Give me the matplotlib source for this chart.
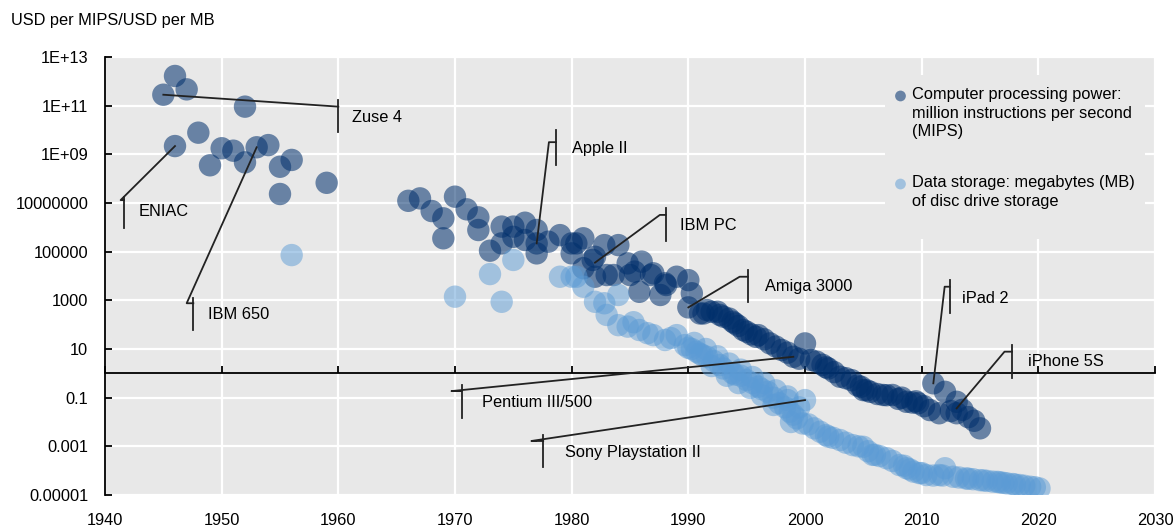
import numpy as np
import matplotlib.pyplot as plt
from matplotlib.ticker import NullLocator
from matplotlib.patches import Rectangle

plt.rcParams['font.family'] = ['Liberation Sans', 'DejaVu Sans']
FS = 11.8

# Computer processing power, USD per MIPS (year, log10 value)
mips_year = [1945, 1946, 1946, 1947, 1948, 1949, 1950, 1951, 1952, 1952, 1953, 1954,
             1955, 1955, 1956, 1959,
             1966, 1967, 1968, 1969, 1969, 1970, 1971, 1972, 1972, 1973, 1974, 1974,
             1975, 1975, 1976, 1976, 1977, 1977, 1977, 1978, 1979, 1980, 1980, 1980.4,
             1981, 1981, 1981.8, 1982, 1982, 1982.8, 1983, 1983.6, 1984, 1984.8, 1985,
             1985.4, 1985.8, 1986, 1986.8, 1987, 1987.6, 1988, 1988.1, 1989, 1990, 1990.3,
             1990, 1991, 1991.3, 1991.6, 1992, 1992.5, 1992.7, 1993, 1993.5, 1993.8, 1994,
             1994.3, 1994.7, 1995, 1995.4, 1995.8, 1996, 1996.5, 1997, 1997.5, 1998, 1998.5,
             1999, 1999.5, 2000, 2000.5, 2001, 2001.5, 2001.8, 2002, 2002.5, 2003, 2003.5,
             2004, 2004.5, 2004.8, 2005, 2005.3, 2005.6, 2006.2, 2006.7, 2007, 2007.5, 2008,
             2008.3, 2008.7, 2009.2, 2009.5, 2009.7, 2010.2, 2010.7, 2011, 2011.5, 2012,
             2012.5, 2013, 2013, 2013.5, 2014, 2014.5, 2015]
mips_log10 = [11.45, 12.22, 9.34, 11.67, 9.89, 8.55, 9.25, 9.15, 10.96, 8.67, 9.29, 9.38,
              8.49, 7.37, 8.77, 7.83,
              7.09, 7.19, 6.67, 6.37, 5.55, 7.26, 6.74, 6.41, 5.89, 5.04, 6.03, 5.34,
              6.03, 5.61, 6.19, 5.48, 5.89, 5.34, 4.93, 5.41, 5.68, 5.34, 4.93, 5.34,
              5.55, 4.32, 4.66, 4.79, 3.97, 5.27, 4.04, 4.04, 5.27, 4.52, 4.04,
              4.18, 3.35, 4.59, 4.04, 4.11, 3.22, 3.70, 3.63, 3.97, 3.83, 3.29,
              2.71, 2.46, 2.46, 2.60, 2.53, 2.53, 2.40, 2.33, 2.25, 2.12, 2.05,
              1.95, 1.78, 1.71, 1.60, 1.50, 1.57, 1.40, 1.23, 1.10, 0.96, 0.85,
              0.68, 0.60, 1.23, 0.55, 0.48, 0.35, 0.25, 0.20, 0.05, -0.14, -0.20,
              -0.28, -0.50, -0.55, -0.69, -0.70, -0.76, -0.85, -0.89, -0.90, -0.89, -1.05,
              -1.00, -1.17, -1.20, -1.15, -1.23, -1.35, -1.51, -0.41, -1.64, -0.76,
              -1.55, -1.17, -1.64, -1.50, -1.80, -1.95, -2.26]

# Data storage, USD per MB (year, log10 value)
disk_year = [1956, 1970, 1973, 1974, 1975, 1979, 1980, 1980.4, 1981, 1982, 1982.8, 1983,
             1984, 1984, 1984.8, 1985.3, 1985.8, 1986.5, 1987, 1988, 1988.5, 1989, 1989.7,
             1990, 1990.3, 1990.5, 1990.7, 1991, 1991.2, 1991.5, 1991.6, 1992, 1992.2,
             1992.5, 1992.7, 1993, 1993.3, 1993.5, 1993.8, 1994, 1994.3, 1994.5, 1994.5,
             1995, 1995.3, 1995.5, 1995.5, 1996, 1996.3, 1996.3, 1996.5, 1996.8, 1997.3,
             1997.3, 1997.5, 1997.8, 1998.3, 1998.5, 1998.5, 1998.7, 1998.8, 1999, 1999.3,
             1999.5, 1999.8, 2000, 2000.3, 2000.8, 2001.3, 2001.8, 2002, 2002.4, 2003,
             2003.5, 2004.1, 2004.6, 2005, 2005.4, 2005.8, 2006, 2006.4, 2007, 2007.5,
             2008.1, 2008.5, 2008.7, 2009, 2009.3, 2009.8, 2010, 2010.4, 2011, 2011.5,
             2011.8, 2012, 2012.7, 2013.2, 2013.8, 2014, 2014.4, 2015, 2015.3, 2015.6,
             2016.1, 2016.5, 2016.7, 2017, 2017.3, 2017.8, 2018, 2018.4, 2018.8, 2019.3,
             2019.7, 2020.1]
disk_log10 = [4.86, 3.15, 4.08, 2.94, 4.66, 3.97, 3.97, 3.97, 3.56, 2.94, 2.88, 2.40,
              3.22, 1.98, 1.92, 2.10, 1.78, 1.65, 1.57, 1.37, 1.45, 1.57, 1.16,
              1.05, 1.00, 1.25, 0.89, 0.80, 0.75, 1.00, 0.68, 0.30, 0.50,
              0.70, 0.34, 0.20, -0.10, 0.40, 0.00, -0.05, -0.40, -0.10, 0.15,
              -0.28, -0.60, -0.40, -0.15, -0.55, -0.65, -0.90, -0.40, -0.76, -1.00,
              -1.30, -0.70, -1.23, -1.40, -1.10, -0.95, -1.58, -2.00, -1.70, -1.85,
              -1.40, -2.06, -1.10, -2.10, -2.26, -2.40, -2.54, -2.60, -2.65, -2.74,
              -2.85, -2.95, -3.00, -3.02, -3.20, -3.35, -3.35, -3.40, -3.49, -3.60,
              -3.77, -3.80, -3.90, -3.95, -4.04, -4.10, -4.10, -4.18, -4.20, -4.18,
              -4.20, -3.90, -4.25, -4.28, -4.32, -4.33, -4.35, -4.39, -4.40, -4.42,
              -4.45, -4.46, -4.48, -4.50, -4.52, -4.55, -4.57, -4.59, -4.62, -4.66,
              -4.68, -4.73]

# annotations: label, point, stub end, bar x, bar y range, text position (year, log10)
notes = [
    ('Zuse 4', (1945, 11.45), (1960.0, 10.96), 1960.0, (11.23, 9.92), (1961.2, 10.53)),
    ('ENIAC', (1946, 9.34), (1941.34, 7.12), 1941.63, (7.26, 5.98), (1942.86, 6.67)),
    ('IBM 650', (1953, 9.29), (1947.0, 2.88), 1947.57, (3.09, 1.78), (1948.83, 2.40)),
    ('Apple II', (1977, 5.34), (1978.05, 9.5), 1978.65, (10.0, 8.56), (1980.0, 9.26)),
    ('IBM PC', (1982, 4.55), (1987.56, 6.51), 1988.05, (6.78, 5.45), (1989.27, 6.09)),
    ('Amiga 3000', (1990, 2.71), (1994.4, 3.97), 1995.1, (4.25, 2.92), (1996.56, 3.55)),
    ('iPad 2', (2011, -0.41), (2011.97, 3.56), 2012.4, (3.83, 2.48), (2013.44, 3.09)),
    ('iPhone 5S', (2013, -1.44), (2017.1, 0.89), 2017.75, (1.16, -0.21), (2019.1, 0.48)),
    ('Pentium III/500', (1999, 0.68), (1969.7, -0.73), 1970.56, (-0.48, -1.85), (1972.28, -1.2)),
    ('Sony Playstation II', (2000, -1.1), (1976.55, -2.78), 1977.56, (-2.52, -3.86), (1979.4, -3.26)),
]

mips_lbl = 'Computer processing power:\nmillion instructions per second\n(MIPS)'
disk_lbl = 'Data storage: megabytes (MB)\nof disc drive storage'

dark = '#002f6c'
light = '#5b9bd5'
bg = '#e8e8e8'

fig = plt.figure(figsize=(11.75, 5.27), dpi=100)
ax = fig.add_axes([105/1175, 1-495/527, 1050/1175, 438/527])
ax.set_facecolor(bg)
ax.set_yscale('log')
ax.set_xlim(1940, 2030)
ax.set_ylim(1e-5, 1e13)

yt = [1e13, 1e11, 1e9, 1e7, 1e5, 1e3, 10, 0.1, 0.001, 1e-5]
ytl = ['1E+13', '1E+11', '1E+09', '10000000', '100000', '1000', '10', '0.1', '0.001', '0.00001']
ax.set_yticks(yt, ytl)
ax.yaxis.set_minor_locator(NullLocator())
ax.set_xticks(range(1940, 2031, 10))
ax.grid(color='white', lw=1.6)
ax.set_axisbelow(True)

for s in ['top', 'right']:
    ax.spines[s].set_visible(False)
ax.spines['left'].set_linewidth(1.3)
ax.spines['bottom'].set_position(('data', 1))
ax.spines['bottom'].set_linewidth(1.3)
ax.tick_params(axis='x', direction='in', length=5, width=1.3, labelbottom=False)
ax.tick_params(axis='y', direction='in', length=5, width=1.3, pad=12, labelsize=FS)

sec = ax.secondary_xaxis('bottom')
sec.set_xticks(range(1940, 2031, 10))
sec.spines['bottom'].set_visible(False)
sec.tick_params(length=0, pad=13, labelsize=FS)

ax.scatter(mips_year, np.power(10.0, mips_log10), s=260, color=dark, alpha=0.55,
           edgecolors='none', zorder=3)
ax.scatter(disk_year, np.power(10.0, disk_log10), s=260, color=light, alpha=0.5,
           edgecolors='none', zorder=3)

for lbl, p, stub, bx, (b1, b2), tp in notes:
    ax.plot([p[0], stub[0], bx], [10**p[1], 10**stub[1], 10**stub[1]],
            color='#222222', lw=1.3, zorder=4)
    ax.plot([bx, bx], [10**b1, 10**b2], color='#222222', lw=1.3, zorder=4)
    ax.text(tp[0], 10**tp[1], lbl, ha='left', va='center', fontsize=FS, zorder=5)

# legend box drawn over the grid
ax.add_patch(Rectangle((0.743, 0.585), 0.247, 0.375, transform=ax.transAxes,
                       facecolor=bg, edgecolor='none', zorder=1))
ax.scatter([0.7576], [0.911], s=60, color=dark, alpha=0.55, edgecolors='none',
           transform=ax.transAxes, zorder=5, clip_on=False)
ax.scatter([0.7576], [0.710], s=60, color=light, alpha=0.5, edgecolors='none',
           transform=ax.transAxes, zorder=5, clip_on=False)
ax.text(0.7686, 0.931, mips_lbl, transform=ax.transAxes, ha='left', va='top',
        fontsize=FS, linespacing=1.3)
ax.text(0.7686, 0.730, disk_lbl, transform=ax.transAxes, ha='left', va='top',
        fontsize=FS, linespacing=1.3)

fig.text(11/1175, 1-20/527, 'USD per MIPS/USD per MB', ha='left', va='center', fontsize=FS)

fig.savefig('out.png', dpi=100)
